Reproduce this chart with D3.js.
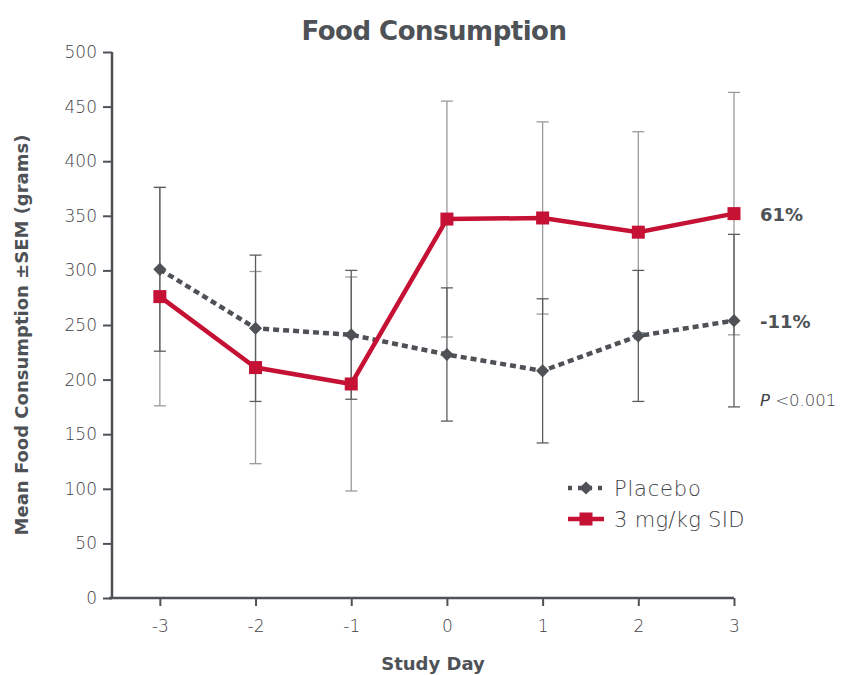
<!DOCTYPE html>
<html>
<head>
<meta charset="utf-8">
<script src="https://cdn.jsdelivr.net/npm/d3@7"></script>
<style>
  body { margin: 0; background: #fff; }
  svg text { font-family: "DejaVu Sans", sans-serif; }
</style>
</head>
<body>
<div id="chart"></div>
<script>
// Study days on the x axis
const days = [-3, -2, -1, 0, 1, 2, 3]

// Mean food consumption (grams) and SEM
const placeboMean = [301, 247, 241, 223, 208, 240, 254]
const placeboSem = [75, 67, 59, 61, 66, 60, 79]
const drugMean = [276, 211, 196, 347, 348, 335, 352]
const drugSem = [100, 88, 98, 108, 88, 92, 111]

const yTicks = [0, 50, 100, 150, 200, 250, 300, 350, 400, 450, 500]

const RED = "#c41134"
const GRAY = "#4e5256"
const LIGHT = "200"

const width = 841
const height = 675
const margin = { top: 52, right: 107, bottom: 77, left: 112 }

const svg = d3.select("#chart")
  .append("svg")
  .attr("width", width)
  .attr("height", height)

const x = d3.scaleLinear()
  .domain([-3.5, 3])
  .range([margin.left, width - margin.right])

const y = d3.scaleLinear()
  .domain([0, 500])
  .range([height - margin.bottom, margin.top])

// Title
svg.append("text")
  .attr("x", 434)
  .attr("y", 40)
  .attr("text-anchor", "middle")
  .attr("font-size", 26)
  .attr("font-weight", "bold")
  .attr("letter-spacing", -0.5)
  .attr("fill", GRAY)
  .text("Food Consumption")

// Y axis
const yAxis = svg.append("g")
  .attr("transform", `translate(${margin.left},0)`)
  .call(d3.axisLeft(y).tickValues(yTicks).tickSize(9).tickPadding(6))
yAxis.select(".domain").attr("stroke", GRAY).attr("stroke-width", 2.5)
  .attr("d", `M0,${y(500)}V${y(0)}`)
yAxis.selectAll(".tick line").attr("stroke", GRAY).attr("stroke-width", 2)
yAxis.selectAll(".tick text")
  .attr("fill", "#3f4246")
  .attr("font-size", 17)
  .attr("font-weight", LIGHT)
  .attr("font-family", "DejaVu Sans, sans-serif")

// X axis
const xAxis = svg.append("g")
  .attr("transform", `translate(0,${y(0)})`)
  .call(d3.axisBottom(x).tickValues(days).tickSize(8).tickPadding(14).tickFormat(d => String(d)))
xAxis.select(".domain").attr("stroke", GRAY).attr("stroke-width", 2.5)
  .attr("d", `M${x(-3.5) - 3},0H${x(3)}`)
xAxis.selectAll(".tick line").attr("stroke", GRAY).attr("stroke-width", 2)
xAxis.selectAll(".tick text")
  .attr("fill", "#3f4246")
  .attr("font-size", 17)
  .attr("font-weight", LIGHT)
  .attr("font-family", "DejaVu Sans, sans-serif")

// Axis titles
svg.append("text")
  .attr("x", 433)
  .attr("y", 670)
  .attr("text-anchor", "middle")
  .attr("font-size", 18)
  .attr("font-weight", "bold")
  .attr("fill", GRAY)
  .text("Study Day")

svg.append("text")
  .attr("transform", `translate(28,335) rotate(-90)`)
  .attr("text-anchor", "middle")
  .attr("font-size", 18)
  .attr("font-weight", "bold")
  .attr("fill", GRAY)
  .text("Mean Food Consumption ±SEM (grams)")

const placebo = days.map((d, i) => ({ day: d, mean: placeboMean[i], sem: placeboSem[i] }))
const drug = days.map((d, i) => ({ day: d, mean: drugMean[i], sem: drugSem[i] }))

// Error bars
function errorBars(data, color) {
  const g = svg.append("g").attr("stroke", color).attr("stroke-width", 1.3)
  data.forEach(d => {
    g.append("line")
      .attr("x1", x(d.day)).attr("x2", x(d.day))
      .attr("y1", y(d.mean + d.sem)).attr("y2", y(d.mean - d.sem))
    ;[d.mean + d.sem, d.mean - d.sem].forEach(v => {
      g.append("line")
        .attr("x1", x(d.day) - 6).attr("x2", x(d.day) + 6)
        .attr("y1", y(v)).attr("y2", y(v))
    })
  })
}
errorBars(drug, "#9a9a9a")
errorBars(placebo, "#5a5d60")

const line = d3.line()
  .x(d => x(d.day))
  .y(d => y(d.mean))

// Placebo dashed line with diamonds
svg.append("path")
  .datum(placebo)
  .attr("fill", "none")
  .attr("stroke", GRAY)
  .attr("stroke-width", 4.5)
  .attr("stroke-dasharray", "6,4")
  .attr("d", line)

const diamond = d3.symbol().type(d3.symbolDiamond2).size(110)
svg.append("g").selectAll("path")
  .data(placebo)
  .join("path")
  .attr("transform", d => `translate(${x(d.day)},${y(d.mean)})`)
  .attr("d", diamond)
  .attr("fill", GRAY)

// Drug line with squares
svg.append("path")
  .datum(drug)
  .attr("fill", "none")
  .attr("stroke", RED)
  .attr("stroke-width", 4.5)
  .attr("d", line)

svg.append("g").selectAll("rect")
  .data(drug)
  .join("rect")
  .attr("x", d => x(d.day) - 6.5)
  .attr("y", d => y(d.mean) - 6.5)
  .attr("width", 13)
  .attr("height", 13)
  .attr("fill", RED)

// End-of-line annotations
svg.append("text")
  .attr("x", 760).attr("y", y(drugMean[6]) + 7)
  .attr("font-size", 18).attr("font-weight", "bold").attr("fill", GRAY)
  .text("61%")
svg.append("text")
  .attr("x", 760).attr("y", y(placeboMean[6]) + 7)
  .attr("font-size", 18).attr("font-weight", "bold").attr("fill", GRAY)
  .text("-11%")
const pText = svg.append("text")
  .attr("x", 760).attr("y", 406)
  .attr("font-size", 16.5).attr("font-weight", LIGHT).attr("fill", "#3f4246")
pText.append("tspan").attr("font-style", "italic").text("P")
pText.append("tspan").text(" <0.001")

// Legend
const legend = svg.append("g").attr("transform", "translate(568,488)")
legend.append("line")
  .attr("x1", 0).attr("x2", 36).attr("y1", 0).attr("y2", 0)
  .attr("stroke", GRAY).attr("stroke-width", 4.5).attr("stroke-dasharray", "4,6")
legend.append("path")
  .attr("transform", "translate(18,0)")
  .attr("d", diamond)
  .attr("fill", GRAY)
legend.append("text")
  .attr("x", 46).attr("y", 7.5)
  .attr("font-size", 21).attr("font-weight", LIGHT).attr("letter-spacing", 0.8)
  .attr("fill", "#3f4246")
  .text("Placebo")

legend.append("line")
  .attr("x1", 0).attr("x2", 36).attr("y1", 31).attr("y2", 31)
  .attr("stroke", RED).attr("stroke-width", 4.5)
legend.append("rect")
  .attr("x", 11.5).attr("y", 24.5).attr("width", 13).attr("height", 13)
  .attr("fill", RED)
legend.append("text")
  .attr("x", 46).attr("y", 38.5)
  .attr("font-size", 21).attr("font-weight", LIGHT).attr("letter-spacing", 0.3)
  .attr("fill", "#3f4246")
  .text("3 mg/kg SID")
</script>
</body>
</html>
